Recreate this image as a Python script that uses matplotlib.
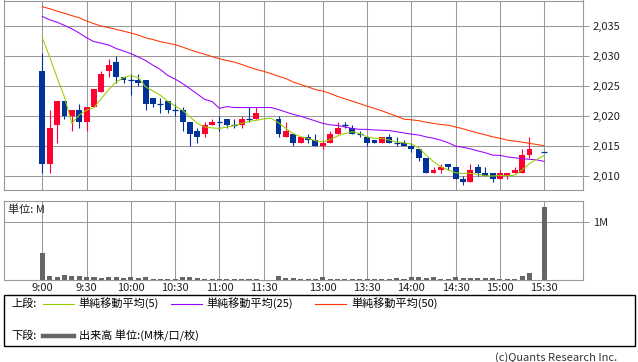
import numpy as np
import matplotlib
matplotlib.use("Agg")
import matplotlib.pyplot as plt
from matplotlib.lines import Line2D
from matplotlib.patches import Rectangle
from matplotlib.ticker import FuncFormatter

plt.rcParams['font.family'] = ['Noto Sans CJK JP', 'DejaVu Sans']

nan = np.nan
# 5-minute candles, index 0 = 9:00, 30/31 = lunch gap, 67 = closing auction gap
opens = [2027.5, 2012, 2018.5, 2022.5, 2020, 2021, 2019, 2021.5, 2024, 2027.5,
         2029, 2026.5, 2026, 2026, 2026, 2023, 2022, 2022.5, 2021, 2021,
         2019, 2017.5, 2017, 2018.5, 2019, 2019.5, 2018.5, 2018.5, 2019.5, 2019.5,
         nan, nan, 2019.5, 2016.5, 2017, 2015.5, 2016.5, 2016, 2015, 2015.5,
         2017, 2018.5, 2018, 2017, 2016.5, 2016, 2015.5, 2016.5, 2015.5, 2015.5,
         2015, 2014.5, 2013, 2010.5, 2011, 2012, 2011.5, 2009.5, 2009, 2011.5,
         2010.5, 2010.5, 2009.5, 2010, 2010.5, 2010.5, 2013.5, nan, 2014]
highs = [2030.5, 2021, 2022.5, 2022.5, 2021, 2022, 2021.5, 2024.5, 2027.5, 2029.5,
         2030, 2026.5, 2027, 2027, 2026, 2023, 2023, 2022.5, 2022, 2021.5,
         2019, 2018, 2019, 2019.5, 2020, 2019.5, 2019.5, 2020, 2021.5, 2021.5,
         nan, nan, 2020, 2019, 2017, 2016.5, 2017, 2017, 2016, 2017.5,
         2019, 2019, 2018.5, 2017.5, 2016.5, 2016, 2016.5, 2017, 2016.5, 2016,
         2015.5, 2014.5, 2013, 2011.5, 2012, 2012, 2011.5, 2010, 2012, 2012,
         2011.5, 2010.5, 2011, 2010.5, 2011.5, 2014.5, 2016.5, nan, 2014]
lows = [2010.5, 2010.5, 2015.5, 2019.5, 2017.5, 2018, 2017.5, 2021.5, 2024, 2026.5,
        2025.5, 2025.5, 2023.5, 2025, 2021, 2021.5, 2020.5, 2020.5, 2020, 2017.5,
        2015, 2015.5, 2016.5, 2018.5, 2017.5, 2018, 2018, 2018, 2019, 2019.5,
        nan, nan, 2016.5, 2016.5, 2015, 2015.5, 2015.5, 2015, 2014.5, 2015.5,
        2017, 2018, 2017, 2016.5, 2015, 2015.5, 2015.5, 2015.5, 2015, 2015,
        2014, 2012.5, 2010.5, 2010.5, 2010.5, 2011, 2009.5, 2008.5, 2009, 2010,
        2010, 2009, 2009.5, 2009.5, 2010.5, 2010.5, 2013, nan, 2014]
closes = [2012, 2018, 2022.5, 2020, 2021, 2019, 2021.5, 2024.5, 2027, 2028.5,
          2026.5, 2026, 2026, 2025.5, 2022, 2022, 2022, 2021, 2021, 2019,
          2017, 2016.5, 2018.5, 2019, 2019, 2018.5, 2018.5, 2019.5, 2019.5, 2020.5,
          nan, nan, 2017, 2017.5, 2015.5, 2016.5, 2016, 2015, 2015.5, 2017,
          2018, 2018.5, 2017, 2017, 2015.5, 2015.5, 2016.5, 2015.5, 2015.5, 2015,
          2014.5, 2013, 2010.5, 2011, 2011.5, 2011.5, 2009.5, 2009, 2011, 2010.5,
          2010, 2009.5, 2010.5, 2010.5, 2011, 2013.5, 2014.5, nan, 2014]

ma5 = [2033.1, 2029.9, 2026.45, 2023.2, 2018.8, 2020.2, 2021.0, 2021.45, 2022.95, 2024.45,
       2025.7, 2026.45, 2026.8, 2026.45, 2024.9, 2024.2, 2023.5, 2022.5, 2021.7, 2021.0,
       2019.9, 2018.8, 2018.2, 2018.05, 2017.95, 2018.2, 2018.45, 2018.8, 2019.1, 2019.3,
       2019.55, 2019.65, 2018.9, 2017.95, 2017.1, 2016.55, 2016.3, 2015.9, 2015.7, 2016.1,
       2016.7, 2017.1, 2017.4, 2017.1, 2016.55, 2016.3, 2016.3, 2016.0, 2015.7, 2015.55,
       2015.35, 2014.7, 2013.5, 2012.4, 2011.55, 2011.0, 2010.55, 2010.45, 2010.45, 2010.3,
       2010.05, 2010.0, 2010.1, 2010.05, 2010.15, 2011.0, 2012.1, 2012.8, 2013.45]
ma25 = [2036.67, 2036.1, 2035.7, 2035.17, 2034.6, 2033.9, 2033.1, 2032.45, 2032.2, 2031.9,
        2031.3, 2030.9, 2030.45, 2029.9, 2029.3, 2028.5, 2027.8, 2026.8, 2026.2, 2025.45,
        2024.6, 2023.7, 2022.8, 2022.45, 2021.3, 2021.6, 2021.45, 2021.45, 2021.45, 2021.45,
        2021.45, 2021.45, 2021.1, 2020.7, 2020.3, 2020.0, 2019.6, 2019.2, 2018.8, 2018.55,
        2018.45, 2018.2, 2017.95, 2017.8, 2017.8, 2017.7, 2017.65, 2017.6, 2017.4, 2017.2,
        2017.0, 2016.85, 2016.55, 2016.3, 2016.0, 2015.55, 2015.0, 2014.8, 2014.55, 2014.2,
        2013.9, 2013.5, 2013.45, 2013.2, 2013.05, 2012.9, 2012.8, 2012.7, 2012.45]
ma50 = [2038.3, 2037.95, 2037.55, 2037.2, 2036.8, 2036.45, 2035.9, 2035.45, 2035.05, 2034.8,
        2034.5, 2034.2, 2033.9, 2033.55, 2033.1, 2032.8, 2032.45, 2032.2, 2031.95, 2031.55,
        2031.1, 2030.7, 2030.35, 2029.95, 2029.6, 2029.3, 2029.05, 2028.65, 2028.2, 2027.8,
        2027.5, 2027.1, 2026.67, 2026.3, 2025.7, 2025.3, 2024.9, 2024.45, 2024.2, 2023.8,
        2023.3, 2022.9, 2022.5, 2022.1, 2021.67, 2021.3, 2020.9, 2020.45, 2020.0, 2019.5,
        2019.4, 2019.25, 2019.0, 2018.8, 2018.6, 2018.5, 2018.2, 2017.9, 2017.55, 2017.2,
        2016.9, 2016.55, 2016.33, 2016.0, 2015.83, 2015.67, 2015.45, 2015.28, 2015.05]

volume = [0.47, 0.074, 0.052, 0.086, 0.074, 0.074, 0.057, 0.057, 0.04, 0.057,
          0.057, 0.04, 0.057, 0.04, 0.057, 0.023, 0.023, 0.023, 0.023, 0.057,
          0.057, 0.04, 0.023, 0.023, 0.023, 0.023, 0.023, 0.023, 0.023, 0.023,
          nan, nan, 0.074, 0.04, 0.04, 0.023, 0.023, 0.023, 0.05, 0.023,
          0.023, 0.023, 0.023, 0.023, 0.023, 0.023, 0.023, 0.023, 0.04, 0.023,
          0.057, 0.057, 0.035, 0.057, 0.023, 0.023, 0.057, 0.04, 0.04, 0.04,
          0.04, 0.04, 0.023, 0.023, 0.023, 0.074, 0.12, nan, 1.26]

tick_pos = [0, 6, 12, 18, 24, 30, 38, 44, 50, 56, 62, 68]
tick_labels = ["9:00", "9:30", "10:00", "10:30", "11:00", "11:30",
               "13:00", "13:30", "14:00", "14:30", "15:00", "15:30"]
price_ticks = [2010, 2015, 2020, 2025, 2030, 2035]

UP = "#FF0033"
DOWN = "#003399"
GRID = "#999999"
W, H = 638, 362

fig = plt.figure(figsize=(W / 100, H / 100), dpi=100)


def fx(px):
    return px / W


def fy(py):
    return 1 - py / H


ax = fig.add_axes([fx(3.5), fy(190), fx(583 - 3.5), fy(0.5) - fy(190)])
axv = fig.add_axes([fx(3.5), fy(280), fx(583 - 3.5), fy(201) - fy(280)])

x = np.arange(len(opens))
o = np.array(opens, float)
c = np.array(closes, float)
h = np.array(highs, float)
l = np.array(lows, float)
ok = ~np.isnan(o)
up = ok & (c > o)
dn = ok & (c < o)
dj = ok & (c == o)

# wicks
ax.vlines(x[up], l[up], h[up], color=UP, lw=0.8, zorder=3)
ax.vlines(x[dn | dj], l[dn | dj], h[dn | dj], color=DOWN, lw=0.8, zorder=3)
# bodies
bw = 0.8
ax.bar(x[up], (c - o)[up], bottom=o[up], width=bw, color=UP, zorder=4, linewidth=0)
ax.bar(x[dn], (o - c)[dn], bottom=c[dn], width=bw, color=DOWN, zorder=4, linewidth=0)
ax.hlines(o[dj], x[dj] - bw / 2, x[dj] + bw / 2, color=DOWN, lw=0.9, zorder=4)

ax.plot(x, ma50, color="#FF3300", lw=0.75, zorder=5)
ax.plot(x, ma25, color="#9900FF", lw=0.75, zorder=5)
ax.plot(x, ma5, color="#99CC00", lw=0.75, zorder=5)

xmin, xmax = -5.26, 73.25
for a in (ax, axv):
    a.set_xlim(xmin, xmax)
    a.set_xticks(tick_pos)
    a.grid(True, color=GRID, lw=0.75)
    a.set_axisbelow(True)
    for s in a.spines.values():
        s.set_color(GRID)
        s.set_linewidth(0.8)
    a.yaxis.tick_right()
    a.tick_params(axis='y', colors=GRID, length=4, width=0.75, labelsize=8,
                  labelcolor="#222222", pad=3)

ax.set_ylim(2007.67, 2039.33)
ax.set_yticks(price_ticks)
ax.yaxis.set_major_formatter(FuncFormatter(lambda v, p: "{:,.0f}".format(v)))
ax.tick_params(axis='x', length=0, labelbottom=False)

v = np.array(volume, float)
vok = ~np.isnan(v)
axv.bar(x[vok], v[vok], width=0.68, color="#666666", linewidth=0, zorder=3)
axv.set_ylim(0, 1.362)
axv.set_yticks([1.0])
axv.set_yticklabels(["1M"])
axv.set_xticklabels(tick_labels)
axv.tick_params(axis='x', length=0, labelsize=8, labelcolor="#222222", pad=2)
axv.text(fx(8.5 - 3.5) / fx(579.5), 0.89, "単位: M", transform=axv.transAxes,
         fontsize=8, va="center", ha="left", color="#222222")

# legend box
fig.patches.append(Rectangle((fx(3.5), fy(346)), fx(634.5 - 3.5), fy(295) - fy(346),
                             transform=fig.transFigure, fill=False,
                             edgecolor="black", lw=1.0))
fig.text(fx(11), fy(303.5), "上段:", fontsize=8, va="center", ha="left")
leg = [(42.7, "#99CC00", "単純移動平均(5)"),
       (170.7, "#9900FF", "単純移動平均(25)"),
       (315, "#FF3300", "単純移動平均(50)")]
for px, col, lab in leg:
    fig.lines.append(Line2D([fx(px), fx(px + 31)], [fy(303.5), fy(303.5)],
                            transform=fig.transFigure, color=col, lw=0.8))
    fig.text(fx(px + 36), fy(303.5), lab, fontsize=8, va="center", ha="left")
fig.text(fx(11), fy(336), "下段:", fontsize=8, va="center", ha="left")
fig.lines.append(Line2D([fx(42.7), fx(73.7)], [fy(336), fy(336)],
                        transform=fig.transFigure, color="#666666", lw=3.2))
fig.text(fx(79), fy(336), "出来高 単位:(M株/口/枚)", fontsize=8, va="center", ha="left")
fig.text(fx(617.5), fy(357.5), "(c)Quants Research Inc.", fontsize=8,
         va="center", ha="right", color="#333333")

fig.savefig("out.png", dpi=100)
